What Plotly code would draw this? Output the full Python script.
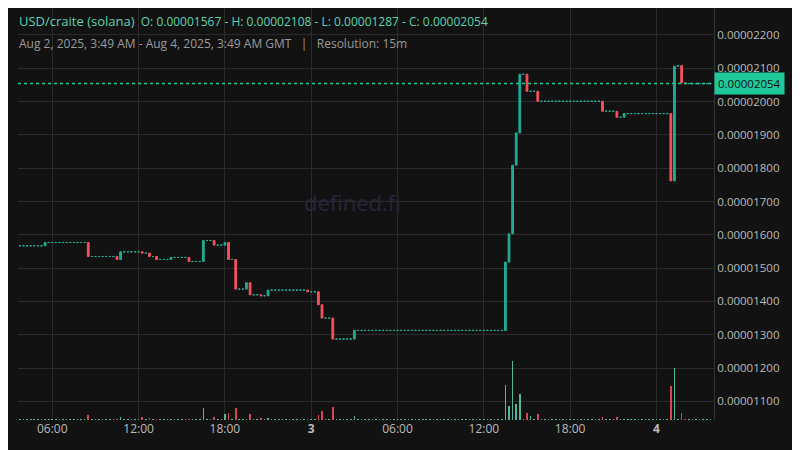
import pandas as pd
import plotly.graph_objects as go

# prices in units of 1e-6 USD, 15m candles; only candles that move are listed,
# every other candle is flat at the previous close
start_price = 15.67
move_times = ['2025-08-02 05:30', '2025-08-02 08:30', '2025-08-02 10:30', '2025-08-02 10:45',
              '2025-08-02 12:15', '2025-08-02 12:45', '2025-08-02 13:15', '2025-08-02 14:15',
              '2025-08-02 15:30', '2025-08-02 16:30', '2025-08-02 17:15', '2025-08-02 18:00',
              '2025-08-02 18:15', '2025-08-02 18:45', '2025-08-02 19:30', '2025-08-02 19:45',
              '2025-08-02 20:30', '2025-08-02 21:00', '2025-08-02 23:45', '2025-08-03 00:30',
              '2025-08-03 00:45', '2025-08-03 01:30', '2025-08-03 03:00', '2025-08-03 13:30',
              '2025-08-03 13:45', '2025-08-03 14:00', '2025-08-03 14:15', '2025-08-03 14:30',
              '2025-08-03 15:00', '2025-08-03 15:15', '2025-08-03 15:45', '2025-08-03 20:15',
              '2025-08-03 21:15', '2025-08-03 21:45', '2025-08-04 01:00', '2025-08-04 01:15',
              '2025-08-04 01:30', '2025-08-04 01:45', '2025-08-04 02:00']
move_close = [15.77, 15.35, 15.26, 15.49, 15.45, 15.35, 15.26, 15.32, 15.20, 15.83,
              15.69, 15.77, 15.26, 14.37, 14.56, 14.20, 14.17, 14.34, 14.29, 13.90,
              13.50, 12.87, 13.13, 15.18, 16.03, 18.09, 19.06, 20.82, 20.31, 20.31,
              20.01, 19.71, 19.53, 19.64, 17.62, 21.06, 21.08, 20.56, 20.54]
move_volume = [1.5, 5.3, 0.7, 3.3, 3, 2, 1.3, 1.3, 0.7, 12.3,
               3.3, 6, 7.3, 12, 0.7, 6, 1.7, 2.3, 0.7, 5.3,
               9.3, 12.7, 4.3, 35, 14, 58.7, 16, 26, 7.3, 4,
               6, 3, 3, 1, 34, 52, 0.7, 7.3, 0.7]
flat_volume = 0.6
last_price = 20.54

times = pd.date_range('2025-08-02 03:45', '2025-08-04 03:45', freq='15min')
moves = {pd.Timestamp(t): (c, v) for t, c, v in zip(move_times, move_close, move_volume)}
o, c, vol = [], [], []
prev = start_price
for t in times:
    close, v = moves.get(t, (prev, flat_volume))
    o.append(prev * 1e-6)
    c.append(close * 1e-6)
    vol.append(v)
    prev = close

df = pd.DataFrame({'t': times, 'o': o, 'c': c, 'v': vol})
df['h'] = df[['o', 'c']].max(axis=1)
df['l'] = df[['o', 'c']].min(axis=1)
df['down'] = df['c'] < df['o']

GREEN = '#22ab94'
RED = '#f7525f'
vol_colors = ['rgba(247,82,95,0.85)' if d else 'rgba(95,211,176,0.85)' for d in df['down']]

fig = go.Figure()
fig.add_trace(go.Bar(x=df['t'], y=df['v'], marker_color=vol_colors, marker_line_width=0,
                     yaxis='y2', width=15 * 60 * 1000 * 0.45, hoverinfo='skip'))
# flat and rising candles all green, falling ones red
for part, col in [(df[~df['down']], GREEN), (df[df['down']], RED)]:
    style = dict(line=dict(color=col, width=1), fillcolor=col)
    fig.add_trace(go.Candlestick(x=part['t'], open=part['o'], high=part['h'], low=part['l'],
                                 close=part['c'], increasing=style, decreasing=style,
                                 whiskerwidth=0))
fig.add_hline(y=last_price * 1e-6, line=dict(color='#1fc99a', width=1.5, dash='dot'))

tick_vals = ['2025-08-02 06:00', '2025-08-02 12:00', '2025-08-02 18:00', '2025-08-03 00:00',
             '2025-08-03 06:00', '2025-08-03 12:00', '2025-08-03 18:00', '2025-08-04 00:00']
tick_text = ['06:00', '12:00', '18:00', '<b>3</b>', '06:00', '12:00', '18:00', '<b>4</b>']
y_ticks = [11, 12, 13, 14, 15, 16, 17, 18, 19, 20, 21, 22]

fig.update_layout(
    width=800, height=450,
    paper_bgcolor='#121212', plot_bgcolor='#121212',
    margin=dict(l=10, r=94, t=0, b=38),
    showlegend=False,
    font=dict(family='Open Sans', color='#bbbbbb', size=12),
    xaxis=dict(range=['2025-08-02 03:37', '2025-08-04 04:00'], tickvals=tick_vals, ticktext=tick_text,
               gridcolor='#2b2b2b', showline=False, zeroline=False, rangeslider=dict(visible=False),
               tickfont=dict(size=12, color='#bbbbbb')),
    yaxis=dict(side='right', range=[10.44e-6, 22.81e-6], tickvals=[v * 1e-6 for v in y_ticks],
               tickformat='.8f', gridcolor='#2b2b2b', zeroline=False, showline=True,
               linecolor='#333333', tickfont=dict(size=11.5, color='#bbbbbb')),
    yaxis2=dict(overlaying='y', range=[0, 412], visible=False),
    bargap=0,
)

fig.add_annotation(xref='paper', yref='y', x=1.0, y=last_price * 1e-6, xanchor='left',
                   text='0.00002054', showarrow=False, bgcolor='#1fc99a',
                   font=dict(color='#111111', size=11.5), borderpad=3)
fig.add_annotation(xref='paper', yref='paper', x=0.48, y=0.53, text='defined.fi', showarrow=False,
                   font=dict(size=22, color='#26263a'))
fig.add_annotation(xref='paper', yref='paper', x=-0.002, y=0.995, xanchor='left', yanchor='top',
                   showarrow=False, align='left',
                   text='<span style="font-size:13px">USD/craite (solana)</span>  '
                        'O: 0.00001567 - H: 0.00002108 - L: 0.00001287 - C: 0.00002054',
                   font=dict(size=12, color='#5fd3b0'))
fig.add_annotation(xref='paper', yref='paper', x=-0.002, y=0.94, xanchor='left', yanchor='top',
                   showarrow=False,
                   text='Aug 2, 2025, 3:49 AM - Aug 4, 2025, 3:49 AM GMT   |   Resolution: 15m',
                   font=dict(size=12, color='#9a9a9a'))

fig.write_html("out.html")
